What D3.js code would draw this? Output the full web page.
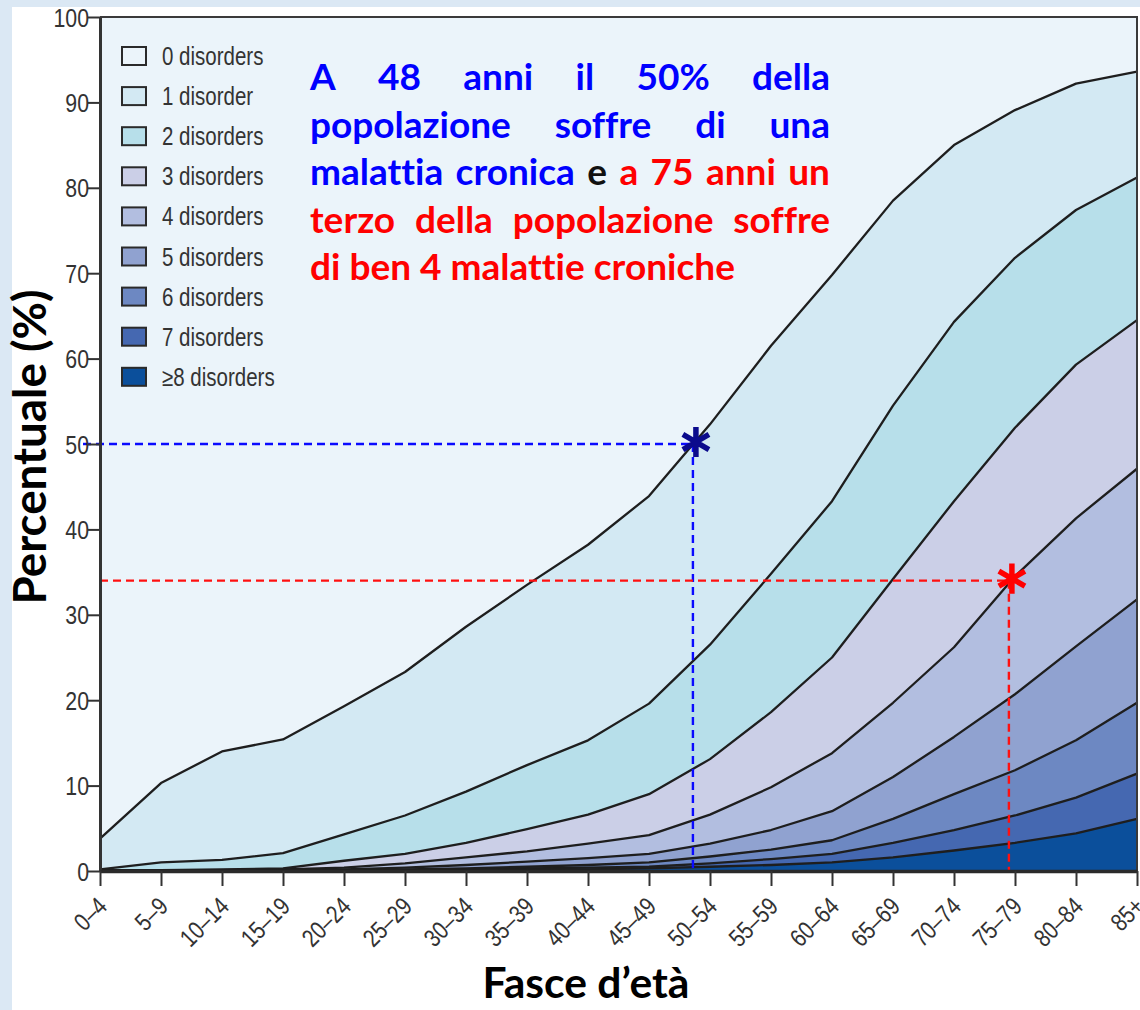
<!DOCTYPE html>
<html><head><meta charset="utf-8">
<script src="https://cdn.jsdelivr.net/npm/d3@7"></script>
<style>
body{margin:0;background:#dbe8f4;}
svg{display:block;}
text{font-variant-ligatures:none;}
</style></head><body>
<svg id="chart" width="1140" height="1010"></svg>
<script>
// ---------------- DATA ----------------
const categories = ["0–4","5–9","10–14","15–19","20–24","25–29","30–34","35–39","40–44","45–49","50–54","55–59","60–64","65–69","70–74","75–79","80–84","85+"];
const seriesNames = ["0 disorders","1 disorder","2 disorders","3 disorders","4 disorders","5 disorders","6 disorders","7 disorders","≥8 disorders"];
const seriesColors = ["#ebf4fa","#d3e9f3","#b7dfea","#cbcfe7","#b2bee0","#90a2d0","#6d88c2","#4568b1","#0b4f9b"];
// percentage of population with exactly k disorders, per age band
const zeroDisorders  = [96.2,89.7,86.0,84.6,80.7,76.7,71.4,66.5,61.8,56.1,47.7,38.5,30.2,21.5,15.0,10.9,7.8,6.4];
const oneDisorder    = [3.6,9.3,12.7,13.3,15.0,16.8,19.3,21.1,22.9,24.3,25.8,26.7,26.5,24.0,20.7,17.3,14.8,12.4];
const twoDisorders   = [0.1,0.9,1.1,1.8,3.1,4.5,6.0,7.5,8.7,10.6,13.4,16.2,18.3,20.3,21.0,19.9,18.1,16.7];
const threeDisorders = [0.1,0.0,0.1,0.1,0.8,1.1,1.7,2.6,3.4,4.8,6.5,8.8,11.2,14.5,17.1,17.4,18.0,17.4];
const fourDisorders  = [0.0,0.1,0.0,0.1,0.2,0.5,0.9,1.2,1.7,2.2,3.4,5.0,6.8,8.7,10.5,13.8,15.0,15.3];
const fiveDisorders  = [0.0,0.0,0.1,0.0,0.1,0.2,0.4,0.6,0.8,1.0,1.5,2.3,3.4,4.9,6.7,8.9,11.0,12.1];
const sixDisorders   = [0.0,0.0,0.0,0.1,0.0,0.1,0.1,0.2,0.3,0.5,0.8,1.1,1.6,2.8,4.2,5.3,6.7,8.3];
const sevenDisorders = [0.0,0.0,0.0,0.0,0.1,0.0,0.1,0.1,0.2,0.2,0.4,0.7,1.0,1.7,2.4,3.2,4.2,5.3];
const eightPlusDisorders = [0.0,0.0,0.0,0.0,0.0,0.1,0.1,0.2,0.2,0.3,0.5,0.7,1.0,1.6,2.4,3.3,4.4,6.1];
const yTickValues = [0,10,20,30,40,50,60,70,80,90,100];
// annotation markers: position along the age axis (category index) and percentage
const markerPositions = [9.72, 14.9];
const markerValues = [50, 34];
const markerLineColors = ["#0a0aff", "#ff1010"];
const markerStarColors = ["#0b0b8c", "#ff0000"];
// annotation text lines: [word, colour key]
const noteLines = [
  [["A","b"],["48","b"],["anni","b"],["il","b"],["50%","b"],["della","b"]],
  [["popolazione","b"],["soffre","b"],["di","b"],["una","b"]],
  [["malattia","b"],["cronica","b"],["e","k"],["a","r"],["75","r"],["anni","r"],["un","r"]],
  [["terzo","r"],["della","r"],["popolazione","r"],["soffre","r"]],
  [["di","r"],["ben","r"],["4","r"],["malattie","r"],["croniche","r"]]
];
const noteColors = {b:"#0000ff", r:"#ff0000", k:"#111111"};
const xTitle = "Fasce d’età";
const yTitle = "Percentuale (%)";

// ---------------- LAYOUT ----------------
const svg = d3.select("#chart");
const L = 100, R = 1137, T = 17, B = 871;
const narrow = "'Liberation Sans',Arial,sans-serif";
const squeeze = 0.82; // horizontal compression to mimic a narrow face
const boldFont = "Lato,'Open Sans',sans-serif";

svg.append("rect").attr("x",12).attr("y",7).attr("width",1140-12).attr("height",1010-7).attr("fill","#ffffff");

const seriesArrays = [zeroDisorders,oneDisorder,twoDisorders,threeDisorders,fourDisorders,fiveDisorders,sixDisorders,sevenDisorders,eightPlusDisorders];
const table = categories.map((c,i)=>{
  const row = {cat:c};
  seriesNames.forEach((s,k)=>row[s]=seriesArrays[k][i]);
  return row;
});

const x = d3.scalePoint().domain(categories).range([L,R]);
const y = d3.scaleLinear().domain([0,100]).range([B,T]);
const color = d3.scaleOrdinal().domain(seriesNames).range(seriesColors);

const stackKeys = seriesNames.slice().reverse(); // ≥8 at bottom
const layers = d3.stack().keys(stackKeys)(table);

svg.append("rect").attr("x",L).attr("y",T).attr("width",R-L).attr("height",B-T).attr("fill",color("0 disorders"));

const area = d3.area().x(d=>x(d.data.cat)).y0(d=>y(d[0])).y1(d=>Math.max(y(d[1]),T));
svg.append("g").selectAll("path").data(layers).join("path")
  .attr("d",area).attr("fill",d=>color(d.key));

const line = d3.line().x(d=>x(d.data.cat)).y(d=>y(d[1]));
svg.append("g").selectAll("path").data(layers.filter(l=>l.key!=="0 disorders")).join("path")
  .attr("d",line).attr("fill","none").attr("stroke","#1e1e1e").attr("stroke-width",2.3).attr("stroke-linejoin","round");

svg.append("path").attr("d",`M${L},${T}H${R}V${B}`).attr("fill","none").attr("stroke","#3a3a3a").attr("stroke-width",2);

const step = x.step();
const gm = svg.append("g");
markerPositions.forEach((p,i)=>{
  const mx = L + p*step, my = y(markerValues[i]);
  const x0 = i===0 ? L-17 : L;
  gm.append("path").attr("d",`M${x0},${my}H${mx}`).attr("stroke",markerLineColors[i]).attr("stroke-width",2.4).attr("stroke-dasharray","8,5").attr("fill","none");
  gm.append("path").attr("d",`M${mx},${my}V${B+1}`).attr("stroke",markerLineColors[i]).attr("stroke-width",2.4).attr("stroke-dasharray","8,5").attr("fill","none");
});

// axes
const yAxis = d3.axisLeft(y).tickValues(yTickValues).tickSize(12).tickSizeOuter(0).tickPadding(2);
const gy = svg.append("g").attr("transform",`translate(${L},0)`).call(yAxis);
gy.select(".domain").attr("stroke","#333").attr("stroke-width",3);
gy.selectAll(".tick line").attr("stroke","#333").attr("stroke-width",2);
gy.selectAll(".tick text").attr("fill","#333").style("font-family",narrow).style("font-size","26px")
  .attr("x",0).attr("dy","0.35em").attr("transform",`translate(-11,0) scale(${squeeze},1)`);

const xAxis = d3.axisBottom(x).tickSize(15).tickSizeOuter(0);
const gx = svg.append("g").attr("transform",`translate(0,${B})`).call(xAxis);
gx.select(".domain").attr("stroke","#2a2a2a").attr("stroke-width",3.5);
gx.selectAll(".tick line").attr("stroke","#333").attr("stroke-width",2);
gx.selectAll(".tick text").attr("fill","#333").style("font-family",narrow).style("font-size","25px")
  .attr("x",0).attr("y",0).attr("dy",0).attr("transform",`translate(8,37) rotate(-45) scale(${squeeze},1)`).style("text-anchor","end");

// stars
markerPositions.forEach((p,i)=>{
  const mx = L + p*step, my = y(markerValues[i]);
  svg.append("path").attr("d",d3.symbol(d3.symbolAsterisk).size(640)())
    .attr("transform",`translate(${mx+3},${my-2})`)
    .attr("fill","none").attr("stroke",markerStarColors[i]).attr("stroke-width",5.5);
});

// legend
const lg = svg.append("g");
seriesNames.forEach((s,k)=>{
  const cy = 56 + k*40.1;
  lg.append("rect").attr("x",122).attr("y",cy-9).attr("width",24).attr("height",18)
    .attr("fill",color(s)).attr("stroke","#2a2a2a").attr("stroke-width",2);
  lg.append("text").attr("transform",`translate(162,${cy}) scale(${squeeze},1)`).attr("dy","0.36em").text(s)
    .attr("fill","#333").style("font-family",narrow).style("font-size","25px");
});

function measure(str, size, weight, family){
  const t = svg.append("text").style("font-family",family).style("font-size",size+"px").style("font-weight",weight).text(str);
  const w = t.node().getComputedTextLength(); t.remove(); return w;
}

// axis titles
const ySize = 100*315/measure(yTitle,100,"bold",boldFont);
svg.append("text").attr("transform","translate(46,447) rotate(-90)").attr("text-anchor","middle")
  .style("font-family",boldFont).style("font-weight","bold").style("font-size",ySize+"px").attr("fill","#000").text(yTitle);
const xSize = 100*207/measure(xTitle,100,"bold",boldFont);
svg.append("text").attr("x",586).attr("y",998).attr("text-anchor","middle")
  .style("font-family",boldFont).style("font-weight","bold").style("font-size",xSize+"px").attr("fill","#000").text(xTitle);

// annotation text (justified)
const lastLineStr = noteLines[noteLines.length-1].map(w=>w[0]).join(" ");
const noteSize = 100*425/measure(lastLineStr,100,"bold",boldFont);
const noteX = 310, noteW = 520;
const spaceW = measure("a a",noteSize,"bold",boldFont) - measure("aa",noteSize,"bold",boldFont);
const ng = svg.append("g");
noteLines.forEach((words,li)=>{
  const by = 90 + li*47.5;
  const widths = words.map(w=>measure(w[0],noteSize,"bold",boldFont));
  const total = d3.sum(widths);
  const justify = li < noteLines.length-1;
  const gap = justify ? (noteW-total)/(words.length-1) : spaceW;
  let cx = noteX;
  words.forEach((w,wi)=>{
    ng.append("text").attr("x",cx).attr("y",by).text(w[0])
      .style("font-family",boldFont).style("font-weight","bold").style("font-size",noteSize+"px")
      .attr("fill",noteColors[w[1]]);
    cx += widths[wi] + gap;
  });
});
</script>
</body></html>
